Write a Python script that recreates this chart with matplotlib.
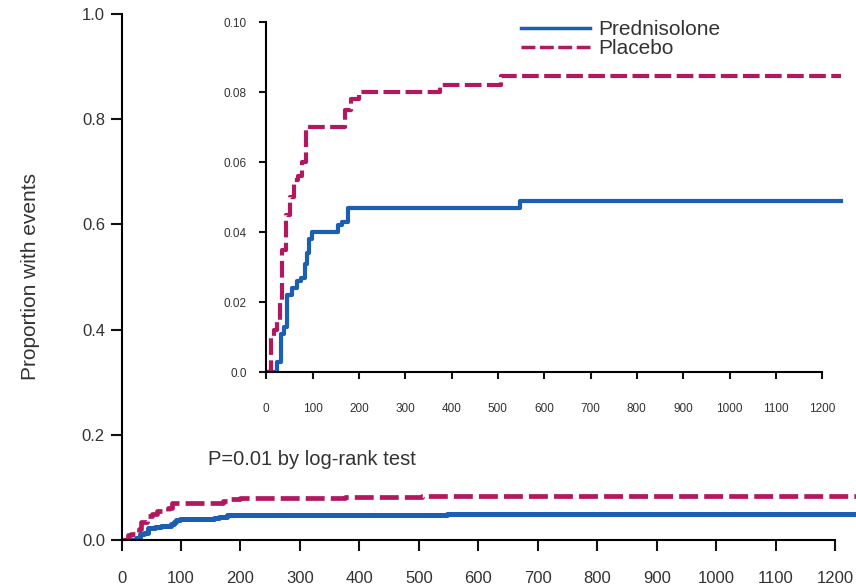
import numpy as np
import matplotlib
matplotlib.use("Agg")
import matplotlib.pyplot as plt

plt.rcParams['font.family'] = ['Liberation Sans', 'DejaVu Sans']

# step curves (days, cumulative proportion with events)
placebo_days = [0, 11, 16, 24, 29, 33, 42, 51, 60, 69, 78, 85, 168, 171, 182, 200, 371, 375, 502, 506, 1240]
placebo_prop = [0.0, 0.010, 0.012, 0.015, 0.020, 0.035, 0.045, 0.050, 0.055, 0.056, 0.060, 0.070,
                0.070, 0.075, 0.078, 0.080, 0.080, 0.082, 0.082, 0.0845, 0.0845]

pred_days = [0, 20, 24, 31, 38, 44, 56, 67, 76, 83, 88, 92, 99, 150, 155, 164, 177, 542, 547, 1240]
pred_prop = [0.0, 0.0, 0.003, 0.011, 0.013, 0.022, 0.024, 0.026, 0.027, 0.031, 0.034, 0.038,
             0.040, 0.040, 0.042, 0.043, 0.047, 0.047, 0.049, 0.049]

x_ticks = list(range(0, 1201, 100))
main_yticks = [0.0, 0.2, 0.4, 0.6, 0.8, 1.0]
inset_yticks = [0.0, 0.02, 0.04, 0.06, 0.08, 0.10]

blue = '#1a5fb4'
magenta = '#b3175e'
txt = '#333333'

fig = plt.figure(figsize=(8.56, 5.86), dpi=100)

# main axes
ax = fig.add_axes([0.142, 0.0785, 0.858, 0.898])
ax.plot(pred_days, pred_prop, drawstyle='steps-post', color=blue, lw=3.6)
ax.plot(placebo_days, placebo_prop, drawstyle='steps-post', color=magenta, lw=3.4, dashes=(4, 1.3))
ax.set_xlim(0, 1235)
ax.set_ylim(0, 1.0)
ax.set_xticks(x_ticks)
ax.set_yticks(main_yticks)
ax.set_yticklabels(['%.1f' % v for v in main_yticks])
for s in ['top', 'right']:
    ax.spines[s].set_visible(False)
ax.spines['bottom'].set_bounds(0, 1200)
ax.spines['left'].set_linewidth(1.5)
ax.spines['bottom'].set_linewidth(1.5)
ax.tick_params(labelsize=12, length=8, width=1.5, colors='#111111', labelcolor=txt)
ax.tick_params(axis='x', pad=14)
ax.tick_params(axis='y', pad=4)
ax.set_ylabel('Proportion with events', fontsize=15, color=txt, labelpad=30)
ax.text(145, 0.143, 'P=0.01 by log-rank test', fontsize=14.5, color=txt)

# inset
ins = fig.add_axes([0.311, 0.365, 0.689, 0.597])
ins.plot(pred_days, pred_prop, drawstyle='steps-post', color=blue, lw=3.0, label='Prednisolone')
ins.plot(placebo_days, placebo_prop, drawstyle='steps-post', color=magenta, lw=3.0, dashes=(4, 1.3),
         label='Placebo')
ins.set_xlim(0, 1273)
ins.set_ylim(0, 0.10)
ins.set_xticks(x_ticks)
ins.set_yticks(inset_yticks)
ins.set_yticklabels(['0.0', '0.02', '0.04', '0.06', '0.08', '0.10'])
for s in ['top', 'right']:
    ins.spines[s].set_visible(False)
ins.spines['bottom'].set_bounds(0, 1200)
ins.spines['left'].set_linewidth(1.5)
ins.spines['bottom'].set_linewidth(1.5)
ins.tick_params(labelsize=8.5, length=5, width=1.5, colors='#111111', labelcolor=txt)
ins.tick_params(axis='x', pad=17)
ins.tick_params(axis='y', pad=9)
ins.patch.set_alpha(0)
leg = ins.legend(loc='upper left', bbox_to_anchor=(0.40, 1.06), frameon=False, fontsize=15,
                 handlelength=3.3, handletextpad=0.4, labelspacing=0.0)
for h in leg.get_lines():
    h.set_linewidth(2.5)
for t in leg.get_texts():
    t.set_color(txt)

fig.savefig('out.png', dpi=100)
